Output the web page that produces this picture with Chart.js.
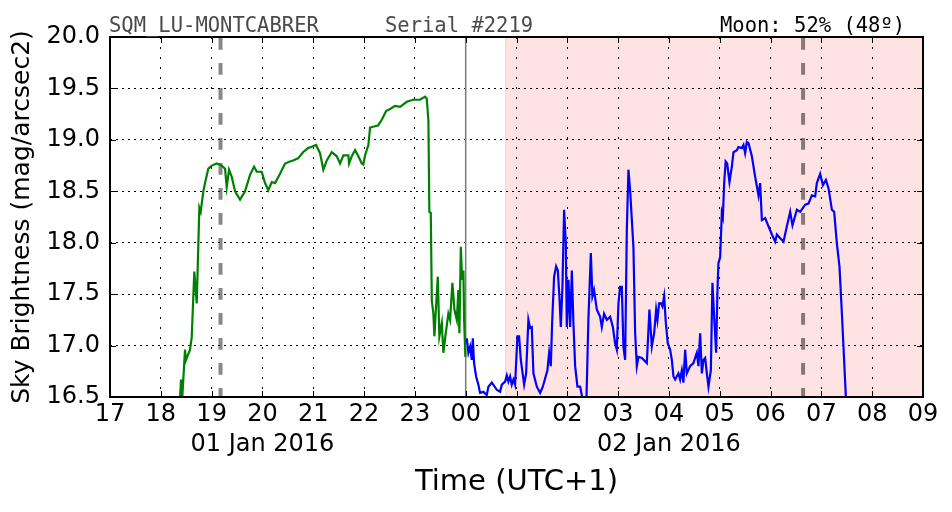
<!DOCTYPE html>
<html><head><meta charset="utf-8">
<script src="https://cdn.jsdelivr.net/npm/chart.js@4.4.0/dist/chart.umd.min.js"></script>
<style>html,body{margin:0;padding:0;background:#fff}</style>
</head><body>
<canvas id="c" width="952" height="512"></canvas>
<script>
// ---- data (time in hours since 00:00 of 01 Jan 2016, local UTC+1) ----
const hourLabels = ['17','18','19','20','21','22','23','00','01','02','03','04','05','06','07','08','09'];
const dateLabels = {20: '01 Jan 2016', 28: '02 Jan 2016'};
const yTickValues = [16.5, 17.0, 17.5, 18.0, 18.5, 19.0, 19.5, 20.0];

const greenTimes = [18.339,18.378,18.398,18.423,18.476,18.496,18.575,18.608,18.659,18.707,18.758,18.785,18.837,18.870,18.935,19.002,19.100,19.199,19.264,19.297,19.343,19.396,19.461,19.559,19.657,19.756,19.835,19.888,19.986,20.051,20.116,20.183,20.248,20.346,20.445,20.543,20.602,20.701,20.799,20.898,20.957,21.055,21.134,21.199,21.266,21.364,21.463,21.528,21.593,21.691,21.705,21.758,21.823,21.888,21.955,21.986,22.020,22.085,22.118,22.197,22.276,22.354,22.433,22.512,22.610,22.709,22.841,22.965,23.102,23.201,23.234,23.266,23.285,23.313,23.333,23.364,23.384,23.417,23.451,23.482,23.530,23.561,23.608,23.659,23.693,23.738,23.778,23.825,23.856,23.876,23.904,23.929,23.955,23.969,23.994];
const greenValues = [16.30,16.49,16.67,16.50,16.96,16.86,16.96,17.08,17.72,17.41,18.34,18.30,18.50,18.58,18.72,18.75,18.77,18.75,18.72,18.54,18.71,18.64,18.50,18.42,18.50,18.66,18.74,18.69,18.69,18.58,18.51,18.59,18.58,18.67,18.77,18.79,18.80,18.82,18.88,18.92,18.93,18.95,18.87,18.71,18.80,18.88,18.84,18.77,18.85,18.85,18.77,18.84,18.90,18.84,18.77,18.76,18.85,18.95,19.12,19.13,19.14,19.20,19.28,19.30,19.33,19.32,19.37,19.39,19.39,19.42,19.40,19.19,18.30,18.29,17.44,17.31,17.09,17.38,17.67,17.09,17.22,16.93,17.12,17.31,17.25,17.61,17.35,17.25,17.54,17.12,17.96,17.64,17.73,17.25,16.89];

const blueTimes = [24.022,24.053,24.087,24.120,24.140,24.165,24.205,24.250,24.283,24.348,24.415,24.447,24.514,24.612,24.677,24.711,24.776,24.809,24.841,24.874,24.907,24.939,24.972,25.018,25.051,25.085,25.150,25.189,25.234,25.268,25.301,25.333,25.400,25.465,25.518,25.563,25.608,25.642,25.675,25.701,25.740,25.780,25.813,25.844,25.872,25.904,25.937,25.970,25.990,26.022,26.055,26.089,26.120,26.154,26.199,26.252,26.285,26.311,26.370,26.415,26.463,26.494,26.526,26.581,26.646,26.679,26.724,26.778,26.843,26.896,26.941,26.974,27.006,27.039,27.073,27.104,27.138,27.171,27.203,27.236,27.301,27.335,27.368,27.400,27.467,27.565,27.616,27.663,27.709,27.748,27.774,27.807,27.846,27.872,27.906,27.939,27.978,28.024,28.057,28.089,28.122,28.187,28.220,28.254,28.285,28.319,28.352,28.417,28.482,28.549,28.581,28.614,28.648,28.679,28.713,28.746,28.778,28.825,28.856,28.890,28.929,28.955,28.974,29.008,29.041,29.061,29.087,29.116,29.146,29.191,29.238,29.270,29.337,29.368,29.435,29.467,29.500,29.533,29.565,29.632,29.697,29.762,29.795,29.829,29.894,29.959,30.026,30.091,30.124,30.254,30.321,30.386,30.431,30.518,30.583,30.681,30.746,30.813,30.878,30.911,30.976,31.030,31.089,31.140,31.207,31.252,31.305,31.356,31.404,31.435,31.482,31.508];
const blueValues = [17.07,16.93,16.99,16.86,17.07,16.83,16.70,16.62,16.54,16.55,16.52,16.60,16.64,16.57,16.55,16.62,16.65,16.71,16.65,16.70,16.62,16.67,16.62,17.09,17.09,16.86,16.62,16.73,17.25,17.17,17.18,16.73,16.60,16.54,16.60,16.68,16.76,16.93,16.80,17.22,17.67,17.77,17.73,17.48,17.18,17.57,18.32,18.00,17.18,17.64,17.18,17.73,17.22,16.80,16.60,16.60,16.52,16.30,16.35,17.25,17.90,17.48,17.54,17.35,17.28,17.18,17.31,17.25,17.28,17.18,17.02,16.96,17.41,17.57,17.57,16.99,16.86,18.12,18.71,18.51,17.96,17.12,16.80,16.89,16.88,16.83,17.35,16.99,17.12,17.35,17.25,17.41,17.41,17.38,17.48,17.22,17.02,16.96,16.86,16.70,16.67,16.73,16.67,16.76,16.64,16.96,16.73,16.80,16.83,16.93,16.80,17.12,16.73,16.86,16.88,16.73,16.60,16.76,17.61,17.28,16.93,17.54,17.80,17.86,18.29,18.25,18.58,18.79,18.77,18.59,18.74,18.88,18.90,18.93,18.92,18.95,18.87,18.98,18.97,18.84,18.64,18.46,18.58,18.22,18.24,18.16,18.08,18.01,18.08,18.01,18.16,18.30,18.17,18.32,18.30,18.37,18.38,18.46,18.45,18.58,18.67,18.56,18.61,18.53,18.32,18.30,17.99,17.77,17.31,16.99,16.50,16.30];

const moonTimes = [19.175, 30.64];   // moon rise/set markers
const midnightTime = 24;
const nightStartTime = 24.78;        // start of shaded (moon-up) period
const headerLeft = 'SQM_LU-MONTCABRER';
const headerMid = 'Serial #2219';
const headerRight = 'Moon: 52% (48º)';

function pts(ts, vs){ const n=Math.min(ts.length, vs.length); const o=[]; for(let i=0;i<n;i++) o.push({x:ts[i], y:vs[i]}); return o; }

const FONT = 'DejaVu Sans';
const decor = {
  id: 'decor',
  beforeDraw(chart){
    const {ctx, chartArea:a, scales:{x}} = chart;
    const xs = x.getPixelForValue(nightStartTime);
    ctx.save();
    ctx.fillStyle = '#ffe3e3';
    ctx.fillRect(xs, a.top, a.right - xs, a.bottom - a.top);
    ctx.strokeStyle = '#ffcaca'; ctx.lineWidth = 1;
    ctx.beginPath(); ctx.moveTo(xs+0.5, a.top); ctx.lineTo(xs+0.5, a.bottom); ctx.stroke();
    ctx.restore();
  },
  beforeDatasetsDraw(chart){
    const {ctx, chartArea:a, scales:{x}} = chart;
    ctx.save();
    ctx.beginPath(); ctx.rect(a.left, a.top, a.right-a.left, a.bottom-a.top); ctx.clip();
    const xm = x.getPixelForValue(midnightTime);
    ctx.strokeStyle = '#7a7a7a'; ctx.lineWidth = 1.5;
    ctx.beginPath(); ctx.moveTo(xm, a.top); ctx.lineTo(xm, a.bottom); ctx.stroke();
    ctx.strokeStyle = 'rgba(0,0,0,0.47)'; ctx.lineWidth = 4;
    ctx.setLineDash([11.7, 13.3]);
    moonTimes.forEach(t => {
      const px = x.getPixelForValue(t);
      ctx.beginPath(); ctx.moveTo(px, a.top + 1); ctx.lineTo(px, a.bottom); ctx.stroke();
    });
    ctx.restore();
  },
  afterDraw(chart){
    const {ctx, chartArea:a, scales:{x, y}} = chart;
    ctx.save();
    ctx.strokeStyle = '#000'; ctx.lineWidth = 1;
    const L = 6;
    x.ticks.forEach(t => {
      const px = Math.round(x.getPixelForValue(t.value)) + 0.5;
      ctx.beginPath(); ctx.moveTo(px, a.bottom); ctx.lineTo(px, a.bottom - L);
      ctx.moveTo(px, a.top); ctx.lineTo(px, a.top + L); ctx.stroke();
    });
    y.ticks.forEach(t => {
      const py = Math.round(y.getPixelForValue(t.value)) + 0.5;
      ctx.beginPath(); ctx.moveTo(a.left, py); ctx.lineTo(a.left + L, py);
      ctx.moveTo(a.right, py); ctx.lineTo(a.right - L, py); ctx.stroke();
    });
    ctx.lineWidth = 2;
    ctx.strokeRect(a.left, a.top, a.right - a.left, a.bottom - a.top);
    ctx.font = '20.5px "DejaVu Sans Mono"';
    ctx.textBaseline = 'alphabetic'; ctx.textAlign = 'left';
    ctx.fillStyle = '#4a4a4a';
    ctx.fillText(headerLeft, 109, 32);
    ctx.fillText(headerMid, 385, 32);
    ctx.fillStyle = '#000';
    ctx.fillText(headerRight, 720, 32);
    ctx.restore();
  }
};

new Chart(document.getElementById('c'), {
  type: 'line',
  data: { datasets: [
    { data: pts(greenTimes, greenValues), borderColor: '#008000', borderWidth: 2.2, pointRadius: 0, tension: 0, fill: false, clip: 0 },
    { data: pts(blueTimes, blueValues), borderColor: '#0000ff', borderWidth: 2.2, pointRadius: 0, tension: 0, fill: false, clip: 0 }
  ]},
  options: {
    responsive: false, animation: false, devicePixelRatio: 1,
    layout: { padding: { top: 37, right: 29, left: 0, bottom: 0 } },
    plugins: { legend: { display: false }, tooltip: { enabled: false } },
    scales: {
      x: {
        type: 'linear', min: 17, max: 33,
        afterFit: s => { s.height = 115; },
        afterBuildTicks: s => { s.ticks = hourLabels.map((_, i) => ({ value: 17 + i })); },
        ticks: {
          autoSkip: false, maxRotation: 0, minRotation: 0, padding: 3, color: '#000',
          font: { family: FONT, size: 24, lineHeight: 1.25 },
          callback: v => { const lab = hourLabels[Math.round(v) - 17]; return dateLabels[v] ? [lab, dateLabels[v]] : lab; }
        },
        grid: { color: '#000', lineWidth: 1, drawTicks: false },
        border: { display: false, dash: [2, 8] },
        title: { display: true, text: 'Time (UTC+1)', color: '#000', font: { family: FONT, size: 29 }, padding: { top: 0, bottom: 12 } }
      },
      y: {
        min: 16.5, max: 20,
        afterFit: s => { s.width = 110; },
        afterBuildTicks: s => { s.ticks = yTickValues.map(v => ({ value: v })); },
        ticks: { padding: 10, color: '#000', font: { family: FONT, size: 24 }, callback: v => Number(v).toFixed(1) },
        grid: { color: '#000', lineWidth: 1, drawTicks: false },
        border: { display: false, dash: [2, 4] },
        title: { display: true, text: 'Sky Brightness (mag/arcsec2)', color: '#000', font: { family: FONT, size: 25 }, padding: { top: 7, bottom: 0 } }
      }
    }
  },
  plugins: [decor]
});
</script>
</body></html>
